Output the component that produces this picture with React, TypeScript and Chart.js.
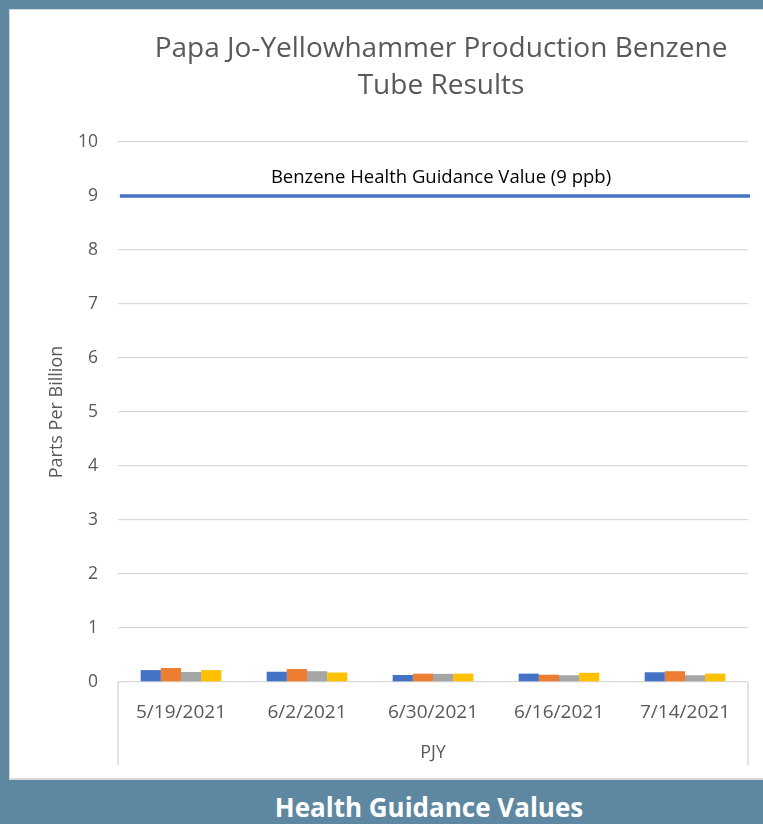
import React, { useEffect, useRef } from "react";
import { Chart, registerables } from "chart.js";

Chart.register(...registerables);

const categories = ["5/19/2021", "6/2/2021", "6/30/2021", "6/16/2021", "7/14/2021"];
const groupLabel = "PJY";
const series1 = [0.22, 0.19, 0.13, 0.155, 0.18];
const series2 = [0.26, 0.24, 0.155, 0.135, 0.2];
const series3 = [0.185, 0.2, 0.15, 0.125, 0.125];
const series4 = [0.22, 0.175, 0.155, 0.17, 0.155];
const seriesNames = ["Sample 1", "Sample 2", "Sample 3", "Sample 4"];
const seriesColors = ["#4472C4", "#ED7D31", "#A5A5A5", "#FFC000"];
const guidanceValue = 9;
const guidanceLabel = "Benzene Health Guidance Value (9 ppb)";
const titleLines = ["Papa Jo-Yellowhammer Production Benzene", "Tube Results"];
const yAxisTitle = "Parts Per Billion";
const yMin = 0;
const yMax = 10;
const yStep = 1;
const footerText = "Health Guidance Values";

const FONT = '"Open Sans", "Noto Sans", sans-serif';

const overlayPlugin = {
  id: "overlay",
  afterDatasetsDraw(chart: any) {
    const { ctx, chartArea, scales } = chart;
    const cx = (chartArea.left + chartArea.right) / 2;
    const y = scales.y.getPixelForValue(guidanceValue);
    ctx.save();
    // guidance line
    ctx.strokeStyle = "#4472C4";
    ctx.lineWidth = 3.5;
    ctx.beginPath();
    ctx.moveTo(chartArea.left + 2, y);
    ctx.lineTo(chartArea.right + 2, y);
    ctx.stroke();
    ctx.fillStyle = "#000000";
    ctx.font = `18.5px ${FONT}`;
    ctx.textAlign = "center";
    ctx.textBaseline = "middle";
    ctx.fillText(guidanceLabel, cx + 8, y - 18);
    // multi-level category box
    ctx.strokeStyle = "#D9D9D9";
    ctx.lineWidth = 1.5;
    ctx.beginPath();
    for (const xx of [chartArea.left, chartArea.right]) {
      ctx.moveTo(xx, chartArea.bottom);
      ctx.lineTo(xx, scales.x.bottom);
    }
    ctx.stroke();
    // title
    ctx.fillStyle = "#595959";
    ctx.font = `28px ${FONT}`;
    titleLines.forEach((t, i) => ctx.fillText(t, cx + 8, 39 + i * 37));
    ctx.restore();
  },
};

export default function App() {
  const canvasRef = useRef<HTMLCanvasElement | null>(null);

  useEffect(() => {
    if (!canvasRef.current) return;
    const all = [series1, series2, series3, series4];
    const chart = new Chart(canvasRef.current, {
      type: "bar",
      data: {
        labels: categories,
        datasets: all.map((d, i) => ({
          label: seriesNames[i],
          data: d,
          backgroundColor: seriesColors[i],
          borderWidth: 0,
          barPercentage: 1,
          categoryPercentage: 0.64,
        })),
      },
      options: {
        responsive: false,
        animation: false,
        events: [],
        layout: { padding: { top: 132, left: 0, right: 15, bottom: 13 } },
        plugins: {
          legend: { display: false },
          title: { display: false },
          tooltip: { enabled: false },
        },
        scales: {
          x: {
            grid: { display: false },
            border: { display: false },
            ticks: {
              color: "#595959",
              font: { family: FONT, size: 19 },
              padding: 11,
              maxRotation: 0,
            },
            title: {
              display: true,
              text: groupLabel,
              color: "#595959",
              font: { family: FONT, size: 18 },
              padding: { top: 4, bottom: 1 },
            },
            afterFit(scale: any) {
              scale.height = 83;
            },
          },
          y: {
            min: yMin,
            max: yMax,
            ticks: {
              stepSize: yStep,
              color: "#595959",
              font: { family: FONT, size: 17.5 },
              padding: 20,
            },
            grid: { color: "#D9D9D9", lineWidth: 1.3, drawTicks: false },
            border: { display: false },
            title: {
              display: true,
              text: yAxisTitle,
              color: "#595959",
              font: { family: FONT, size: 18 },
              padding: { top: 36, bottom: 0 },
            },
            afterFit(scale: any) {
              scale.width = 108;
            },
          },
        },
      },
      plugins: [overlayPlugin],
    });
    return () => chart.destroy();
  }, []);

  return (
    <div
      style={{
        position: "absolute",
        left: 0,
        top: 0,
        width: 763,
        height: 824,
        background: "#5E87A1",
        overflow: "hidden",
      }}
    >
      <div
        style={{
          position: "absolute",
          left: 9,
          top: 9,
          width: 760,
          height: 768,
          background: "#FFFFFF",
          borderLeft: "1px solid #D9D9D9",
          borderTop: "1px solid #D9D9D9",
          borderBottom: "2px solid #D9D9D9",
        }}
      >
        <canvas ref={canvasRef} width={753} height={768} style={{ display: "block" }} />
      </div>
      <div
        style={{
          position: "absolute",
          left: 0,
          width: 858,
          top: 790,
          textAlign: "center",
          color: "#FFFFFF",
          fontFamily: FONT,
          fontWeight: 700,
          fontSize: 26,
          lineHeight: "34px",
        }}
      >
        {footerText}
      </div>
    </div>
  );
}
